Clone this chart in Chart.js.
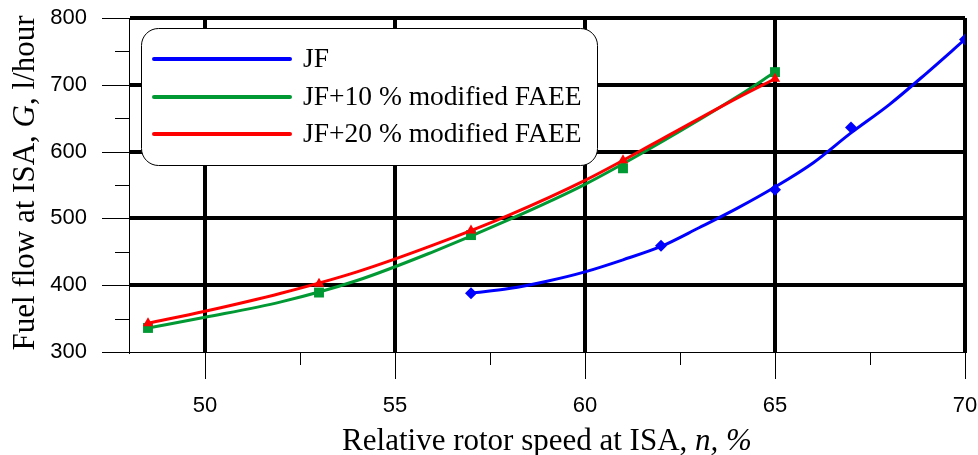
<!DOCTYPE html>
<html>
<head>
<meta charset="utf-8">
<script src="https://cdn.jsdelivr.net/npm/chart.js@4/dist/chart.umd.min.js"></script>
<style>
  html, body { margin: 0; padding: 0; background: #fff; }
  #wrap { width: 978px; height: 455px; position: relative; }
</style>
</head>
<body>
<div id="wrap"><canvas id="fuelChart"></canvas></div>
<script>
// Data
const seriesNames = ['JF', 'JF+10 % modified FAEE', 'JF+20 % modified FAEE'];
const seriesColors = ['#0000ff', '#009933', '#ff0000'];

// measured points (markers)
const jfSpeed = [57, 62, 65, 67, 70];
const jfFlow = [388, 459, 543, 636, 768];
const faee10Speed = [48.5, 53, 57, 61, 65];
const faee10Flow = [336, 389, 475, 575, 719];
const faee20Speed = [48.5, 53, 57, 61, 65];
const faee20Flow = [343, 402, 482, 587, 709];

// smoothed trend lines
const jfFitSpeed = [57, 58, 59, 60, 61, 62, 63, 64, 65, 66, 67, 68, 69, 70];
const jfFitFlow = [388, 395, 406, 420, 438, 458, 486, 515, 547, 583, 628, 670, 718, 768];
const faee10FitSpeed = [48.5, 50, 52, 54, 56, 58, 60, 62, 64, 65];
const faee10FitFlow = [336, 352, 375, 407, 450, 498, 551, 614, 682, 719];
const faee20FitSpeed = [48.5, 50, 52, 54, 56, 58, 60, 62, 64, 65];
const faee20FitFlow = [343, 361, 388, 420, 460, 505, 557, 618, 680, 709];

const xMajorTicks = [50, 55, 60, 65, 70];
const xMinorTicks = [52.5, 57.5, 62.5, 67.5];
const yMajorTicks = [300, 400, 500, 600, 700, 800];
const yMinorTicks = [350, 450, 550, 650, 750];

const serif = "'Liberation Serif', 'Times New Roman', serif";
const sans = "'Liberation Sans', Arial, sans-serif";

function toPoints(xs, ys) {
  return xs.map((x, i) => ({ x: x, y: ys[i] }));
}

// keep the plot area where the reference has it
function noScalePadding(scale) {
  scale.paddingTop = 0;
  scale.paddingBottom = 0;
  scale.paddingLeft = 0;
  scale.paddingRight = 0;
}

// tick marks outside the plot area, major and minor
const tickMarks = {
  id: 'tickMarks',
  afterDraw(chart) {
    const { ctx, chartArea, scales } = chart;
    ctx.save();
    ctx.strokeStyle = '#000';
    ctx.lineWidth = 1;
    ctx.beginPath();
    yMajorTicks.forEach(v => {
      const y = Math.round(scales.y.getPixelForValue(v)) + 0.5;
      ctx.moveTo(chartArea.left - 27, y); ctx.lineTo(chartArea.left, y);
    });
    yMinorTicks.forEach(v => {
      const y = Math.round(scales.y.getPixelForValue(v)) + 0.5;
      ctx.moveTo(chartArea.left - 14, y); ctx.lineTo(chartArea.left, y);
    });
    xMajorTicks.forEach(v => {
      const x = Math.round(scales.x.getPixelForValue(v)) + 0.5;
      ctx.moveTo(x, chartArea.bottom); ctx.lineTo(x, chartArea.bottom + 27);
    });
    xMinorTicks.forEach(v => {
      const x = Math.round(scales.x.getPixelForValue(v)) + 0.5;
      ctx.moveTo(x, chartArea.bottom); ctx.lineTo(x, chartArea.bottom + 13);
    });
    ctx.stroke();
    ctx.restore();
  }
};

// draws text made of normal / italic runs, centred on the origin
function drawRuns(ctx, runs, size) {
  let total = 0;
  runs.forEach(r => {
    ctx.font = (r.italic ? 'italic ' : '') + size + 'px ' + serif;
    r.w = ctx.measureText(r.text).width;
    total += r.w;
  });
  let x = -total / 2;
  runs.forEach(r => {
    ctx.font = (r.italic ? 'italic ' : '') + size + 'px ' + serif;
    ctx.fillText(r.text, x, 0);
    x += r.w;
  });
}

const axisTitles = {
  id: 'axisTitles',
  afterDraw(chart) {
    const { ctx, chartArea } = chart;
    ctx.save();
    ctx.fillStyle = '#000';
    ctx.textAlign = 'left';
    ctx.textBaseline = 'alphabetic';
    // x title
    ctx.save();
    ctx.translate((chartArea.left + chartArea.right) / 2, 450);
    drawRuns(ctx, [
      { text: 'Relative rotor speed at ISA, ' },
      { text: 'n, %', italic: true }
    ], 31);
    ctx.restore();
    // y title
    ctx.save();
    ctx.translate(34, (chartArea.top + chartArea.bottom) / 2 - 2);
    ctx.rotate(-Math.PI / 2);
    drawRuns(ctx, [
      { text: 'Fuel flow at ISA, ' },
      { text: 'G', italic: true },
      { text: ', l/hour' }
    ], 31);
    ctx.restore();
    ctx.restore();
  }
};

// legend in a rounded box inside the plot
const boxLegend = {
  id: 'boxLegend',
  afterDraw(chart) {
    const { ctx } = chart;
    const bx = 141, by = 28, bw = 456, bh = 137;
    ctx.save();
    ctx.beginPath();
    ctx.roundRect(bx + 0.5, by + 0.5, bw, bh, 17);
    ctx.fillStyle = '#fff';
    ctx.fill();
    ctx.strokeStyle = '#000';
    ctx.lineWidth = 1;
    ctx.stroke();
    const rows = [59, 97, 134];
    ctx.font = '27.5px ' + serif;
    ctx.textBaseline = 'middle';
    ctx.lineCap = 'round';
    seriesNames.forEach((name, i) => {
      ctx.strokeStyle = seriesColors[i];
      ctx.lineWidth = 4;
      ctx.beginPath();
      ctx.moveTo(154, rows[i]);
      ctx.lineTo(290, rows[i]);
      ctx.stroke();
      ctx.fillStyle = '#000';
      ctx.fillText(name, 303, rows[i] + 1);
    });
    ctx.restore();
  }
};

function fitLine(i, xs, ys, order) {
  return {
    label: seriesNames[i],
    data: toPoints(xs, ys),
    borderColor: seriesColors[i],
    backgroundColor: seriesColors[i],
    borderWidth: 3,
    pointRadius: 0,
    cubicInterpolationMode: 'monotone',
    order: order
  };
}

function markers(i, xs, ys, style, radius, order) {
  return {
    label: seriesNames[i] + ' points',
    data: toPoints(xs, ys),
    borderColor: seriesColors[i],
    backgroundColor: seriesColors[i],
    showLine: false,
    pointStyle: style,
    pointRadius: radius,
    pointBorderWidth: 0,
    order: order
  };
}

const ctx = document.getElementById('fuelChart').getContext('2d');
new Chart(ctx, {
  type: 'line',
  data: {
    datasets: [
      fitLine(0, jfFitSpeed, jfFitFlow, 5),
      markers(0, jfSpeed, jfFlow, 'rectRot', 6, 4),
      fitLine(1, faee10FitSpeed, faee10FitFlow, 3),
      markers(1, faee10Speed, faee10Flow, 'rect', 7, 2),
      fitLine(2, faee20FitSpeed, faee20FitFlow, 1),
      markers(2, faee20Speed, faee20Flow, 'triangle', 6, 0)
    ]
  },
  options: {
    responsive: true,
    maintainAspectRatio: false,
    animation: false,
    layout: { autoPadding: false, padding: { top: 18, right: 13, left: 0, bottom: 0 } },
    plugins: {
      legend: { display: false },
      tooltip: { enabled: false }
    },
    scales: {
      x: {
        type: 'linear',
        min: 48,
        max: 70,
        afterBuildTicks: scale => { scale.ticks = xMajorTicks.map(v => ({ value: v })); },
        afterFit: scale => { scale.height = 103; noScalePadding(scale); },
        ticks: {
          color: '#000',
          font: { family: sans, size: 22 },
          padding: 41,
          maxRotation: 0
        },
        grid: { color: '#000', lineWidth: 4, drawTicks: false },
        border: { display: true, color: '#000', width: 1 }
      },
      y: {
        min: 300,
        max: 800,
        afterBuildTicks: scale => { scale.ticks = yMajorTicks.map(v => ({ value: v })); },
        afterFit: scale => { scale.width = 129; noScalePadding(scale); },
        ticks: {
          color: '#000',
          font: { family: sans, size: 22 },
          padding: 42
        },
        grid: {
          color: c => (c.tick && c.tick.value === 300 ? 'rgba(0,0,0,0)' : '#000'),
          lineWidth: 4,
          drawTicks: false
        },
        border: { display: true, color: '#000', width: 1 }
      }
    }
  },
  plugins: [tickMarks, axisTitles, boxLegend]
});
</script>
</body>
</html>
